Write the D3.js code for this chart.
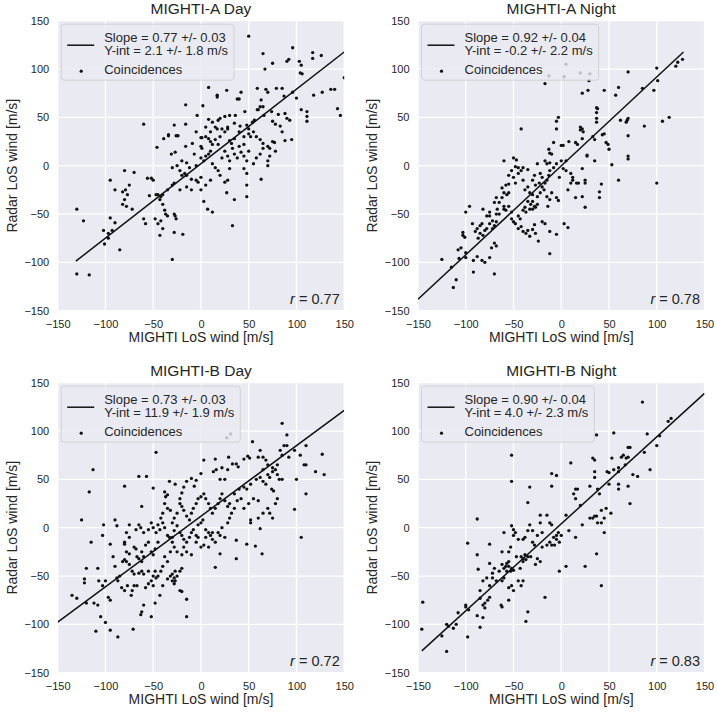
<!DOCTYPE html>
<html><head><meta charset="utf-8">
<script src="https://cdn.jsdelivr.net/npm/d3@7"></script>
<style>body{margin:0;background:#fff}svg{display:block}text{font-family:"Liberation Sans",Arial,sans-serif;fill:#262626}</style>
</head><body><div id="chart"></div>
<script>
const titles = ["MIGHTI-A Day", "MIGHTI-A Night", "MIGHTI-B Day", "MIGHTI-B Night"];
const slopes = [0.77, 0.92, 0.73, 0.90];
const intercepts = [2.1, -0.2, 11.9, 4.0];
const fitStartX = [-131, -150, -150, -146];
const fitEndX = [150, 128, 150, 150];
const slopeLabels = ["Slope = 0.77 +/- 0.03", "Slope = 0.92 +/- 0.04", "Slope = 0.73 +/- 0.03", "Slope = 0.90 +/- 0.04"];
const intLabels = ["Y-int = 2.1 +/- 1.8 m/s", "Y-int = -0.2 +/- 2.2 m/s", "Y-int = 11.9 +/- 1.9 m/s", "Y-int = 4.0 +/- 2.3 m/s"];
const rValues = ["0.77", "0.78", "0.72", "0.83"];
const tickValues = [-150, -100, -50, 0, 50, 100, 150];

const aDayPts = [[50,134],[65,116],[96,122],[117,117],[126,114],[117,111],[90,108],[92,110],[75,106],[103,108],[105,104],[104,96],[106,95],[67,100],
[150,91],[8,81],[27,78],[42,76],[59,80],[68,79],[70,76],[79,80],[85,80],[17,73],[17,71],[38,69],[40,69],[63,68],[87,72],[96,76],[100,70],[118,73],[127,76],[136,79],[140,79],[-16,63],[2,62],[59,58],[62,61],
[-4,52],[143,59],[146,52],[105,58],[111,56],[111,51],[111,46],[60,58],[65,61],[46,56],[74,56],[81,53],[88,54],[90,49],[93,47],[83,41],[78,43],[75,46],[66,52],[56,47],[54,45],[48,42],[36,52],[30,52],[25,51],[20,49],[18,47],[12,45],[8,48],[5,40],[15,40],[22,38],[28,38],[35,44],[41,41],[-16,43],[-28,42],[-60,43],
[-34,32],[-34,31],[-39,28],[-46,19],[-26,31],[-24,31],[-16,20],[-9,23],[0,29],[1,29],[0,20],[1,18],[5,30],[8,28],[10,25],[12,22],[15,27],[18,22],[20,30],[25,35],[30,26],[32,23],[35,28],[40,35],[45,30],[50,33],[52,30],[55,35],[58,30],[62,27],[65,23],[70,20],[72,18],[75,25],[77,24],[85,35],[88,26],[95,27],[40,20],[45,22],[50,38],[28,40],[17,38],[-5,35],[10,35],
[-31,12],[-27,14],[-7,12],[-20,5],[-15,3],[-12,-2],[-5,0],[0,8],[3,5],[5,10],[8,12],[10,15],[12,2],[15,-2],[18,-5],[22,8],[25,15],[28,10],[30,5],[33,18],[35,12],[38,8],[42,14],[45,10],[48,5],[50,15],[55,2],[58,8],[62,12],[65,18],[70,5],[70,0],[72,10],[78,15],[-25,0],[-30,-2],[-22,-5],[45,-3],[48,-8],[30,-3],[20,-10],[10,-15],[5,-20],[0,-12],[-5,-15],[-10,-14],[-15,-10],[-17,-8],[-20,-10],[-3,-17],[28,-15],[25,-17],[63,-14],[48,-20],
[-35,-25],[-40,-30],[-40,-40],[-42,-32],[-45,-30],[-47,-30],[-43,-35],[-10,-25],[-15,-22],[-28,-18],[-30,-20],[3,-37],[27,-28],[35,-35],[48,-32],[7,-45],[12,-48],[-22,-25],[0,-25],[-50,-15],[-80,-5],[-70,-7],[-75,-20],[-79,-25],[-82,-27],[-95,-15],[-90,-25],[-77,-30],[-80,-35],
[-130,-45],[-123,-57],[-95,-54],[-90,-59],[-60,-55],[-58,-60],[-48,-55],[-45,-60],[-42,-57],[-38,-46],[-37,-50],[-35,-52],[-40,-65],[-43,-72],[-28,-50],[-27,-52],[-26,-55],[-28,-69],[-30,-97],[-19,-71],[-78,-42],[-82,-40],[-72,-45],[-54,-31],[-102,-67],[-97,-70],[-93,-67],[-97,-75],[-101,-81],[-85,-87],[33,-62],[-130,-112],[-117,-113],[-52,-13],[-56,-13]];

const aNightPts = [[127,110],[122,107],[120,103],[100,101],[101,88],[97,78],[85,80],[70,97],[60,81],[57,73],[45,78],[28,78],[22,75],[-17,85],[-13,93],[3,92],[5,105],[20,96],[30,95],[29,88],
[113,50],[106,46],[87,41],[100,-18],[70,49],[69,47],[68,45],[62,47],[70,31],[70,10],[70,7],[60,-15],[53,1],[38,59],[37,60],[37,55],[37,49],[37,45],[33,30],[35,27],[45,33],[43,32],[47,24],[49,22],[50,17],[35,5],[42,-19],[40,-27],[40,-33],[20,40],[22,38],[20,37],[23,35],[22,28],[27,11],[27,10],[15,24],[17,22],[8,25],[2,21],[0,21],[5,5],[-3,50],[-5,46],[-5,38],[-8,24],[-13,17],[-12,13],[-10,12],[-17,5],[-12,3],[-5,2],[2,-3],[-2,-12],[-13,-10],[-15,-15],[-17,-18],[-20,-22],[-22,-28],[-18,-25],[-15,-32],[-12,-35],[-10,-28],[-3,-36],[-5,-33],[7,-25],[12,-12],[12,-15],[10,-18],[18,-18],[16,-18],[25,-15],[25,-18],[22,-32],[25,-43],[15,-33],[10,-8],[22,-3],
[3,-60],[7,-64],[-12,-68],[-12,-91],[-5,-71],[-14,-42],[-17,-60],[-20,-58],[-24,-78],[-28,-61],[-30,-66],[-27,-70],[-30,-45],[-28,-42],[-33,-45],[-35,-37],[-38,-43],[-40,-46],[-25,-32],[-30,-30],[-33,-28],[-38,-25],[-40,-15],[-45,-8],[-42,-5],[-50,-12],[-48,-18],[-35,-4],[-40,-2],[-45,-2],[-48,-1],[-50,8],[-47,6],[-42,38],[-55,-19],[-55,-28],[-57,-30],[-60,-28],[-62,-33],[-65,-38],[-60,-42],[-52,-48],[-52,-55],[-50,-58],[-48,-60],[-45,-52],[-45,-65],[-55,-42],[-58,-46],[-60,-45],[-65,-50],[-68,-58],[-70,-62],[-72,-65],[-68,-50],[-67,-45],[-68,-33],[-70,-38],
[-75,-60],[-78,-65],[-80,-67],[-82,-72],[-85,-70],[-87,-75],[-70,-80],[-68,-83],[-73,-85],[-75,-95],[-80,-100],[-83,-98],[-88,-94],[-92,-98],[-92,-110],[-70,-112],[-82,-45],[-83,-60],[-85,-62],[-88,-65],[-93,-60],[-90,-68],[-96,-42],[-100,-48],[-103,-69],[-103,-72],[-101,-74],[-105,-85],[-100,-90],[-108,-87],[-100,-95],[-107,-96],[-125,-97],[-110,-118],[-113,-126],[-115,-105],[-78,-52],[-75,-52],[-75,-48],[-72,-57],[-60,5],[-58,-20],[-62,-23],[-55,-10],[-52,-5],[-30,-15],[-27,-20],[-23,-18],[-20,-12],[-22,-8],[-12,-5],[-8,-2],[-15,2],[0,5],[5,-5],[-25,2],[-28,-10],[-35,-22],[-30,-37],[-27,-43],[-25,-40],[-32,-40],[-37,-48],[-43,-55],[-40,-68],[-37,-70],[-42,-63],[-33,-73],[-35,-67]];

const bDayPts = [[85,108],[90,96],[87,85],[83,80],[54,89],[49,74],[51,72],[60,73],[62,80],[65,73],[68,70],[45,71],[37,66],[39,63],[33,66],[29,73],[15,71],[16,60],[13,58],[22,62],[28,60],[25,50],[20,50],[3,70],[0,56],[-5,49],[-7,43],[-10,51],[-15,48],[-18,42],[-20,36],[-22,30],[-27,45],[-33,48],[-38,37],[-37,32],[-35,34],[-47,78],[-50,41],[-57,53],[-65,53],[-80,43],[-62,22],[27,93],[31,97],
[-113,60],[-117,37],[-125,8],[-115,-15],[-120,-42],[-122,-53],[-122,-57],[-135,-70],[-130,-73],[-120,-78],[-112,-78],[-108,-80],[-107,-55],[-108,-42],[-100,-55],[-103,-60],[-97,-72],[-95,-75],[-100,-98],[-105,-92],[-110,-107],[-95,-106],[-87,-113],[-71,-105],[-63,-90],[-62,-87],[-60,-80],[-52,-92],[-58,-62],[-55,-58],[-52,-55],[-50,-50],[-48,-45],[-55,-45],[-60,-48],[-62,-45],[-65,-47],[-67,-60],[-70,-60],[-72,-65],[-73,-70],[-77,-60],[-80,-65],[-83,-62],[-87,-55],[-85,-50],[-88,-52],[-90,-40],[-92,-30],[-95,-17],[-102,3],[-103,-8],[-90,8],[-88,2],[-80,-15],[-80,-17],[-75,-10],[-78,-25],[-80,-33],[-82,-35],[-78,-35],[-75,-38],[-72,-45],[-70,-48],[-75,-27],[-70,-20],[-68,-22],[-67,-30],[-65,-32],[-62,-35],[-60,-30],[-62,-25],[-58,-18],[-55,-15],[-52,-25],[-50,-28],[-48,-22],[-45,-15],[-47,-5],[-50,0],[-52,5],[-55,-2],[-60,-5],[-63,0],[-65,3],[-68,-2],[-75,3],[-78,-5],
[-43,-2],[-40,5],[-38,0],[-35,-8],[-33,-10],[-30,-10],[-28,-3],[-25,2],[-22,-5],[-20,-8],[-18,-12],[-15,-15],[-12,-10],[-10,-5],[-8,-2],[-5,-8],[-3,3],[0,5],[2,8],[5,-2],[8,-5],[10,-8],[12,-12],[15,-15],[-25,-25],[-28,-20],[-30,-15],[-32,-25],[-35,-35],[-38,-30],[-40,-40],[-42,-45],[-45,-50],[-47,-52],[-50,-60],[-40,-60],[-43,-70],[-48,-78],[-35,-53],[-32,-50],[-30,-48],[-28,-52],[-20,-42],[-22,-45],[-25,-50],[-27,-45],[-30,-55],[-28,-58],[-22,-65],[-20,-66],[-15,-74],[-15,-92],[-27,-55],[-18,-20],[-15,-25],[-20,-28],[-10,-28],[-5,-15],[-3,-10],[0,-20],[3,-18],[5,-10],[8,-20],[12,-5],[15,-41],[20,-27],[18,-5],[20,-8],[22,0],[25,-10],[28,5],[30,10],[32,15],[35,20],[30,25],[28,22],[25,28],[22,35],[20,30],[18,25],[15,20],[12,15],[10,20],[8,25],[5,30],[3,35],[0,32],[-3,30],[-5,25],[-8,20],[-10,15],[-12,8],[-15,12],[-18,18],[-20,22],[-22,25],[-25,15],[-28,10],[-30,5],[-32,18],[-35,20],[-38,25],[-40,15],[-42,10],[-45,3],
[37,-13],[37,-32],[48,-17],[57,-19],[64,-27],[62,-1],[52,5],[52,8],[60,10],[65,15],[70,20],[72,15],[75,10],[78,25],[80,30],[60,28],[55,30],[50,25],[45,20],[42,30],[38,28],[35,35],[40,40],[45,42],[48,40],[52,45],[58,50],[62,52],[65,48],[70,55],[72,52],[75,58],[78,60],[80,55],[82,50],[85,50],[68,45],[74,40],[76,38],[100,50],[98,19],[105,-10],[110,35],[108,65],[110,65],[104,75],[110,85],[120,58],[127,76],[129,55],[92,73],[98,80],[90,85],[85,75],[80,65],[75,62],[70,65],[65,60]];

const bNightPts = [[85,130],[115,113],[112,110],[103,95],[90,97],[100,85],[87,78],[93,60],[80,53],[75,55],[72,25],[70,43],[67,65],[70,73],[72,83],[70,83],[65,75],[63,73],[68,72],[60,62],[60,58],[60,45],[60,40],[55,98],[53,72],[50,57],[48,58],[50,45],[55,60],[52,15],[47,20],[45,10],[45,-5],[42,5],[38,5],[35,12],[37,12],[33,10],[30,10],[37,-27],[42,-60],[35,52],[35,58],[35,70],[33,72],[38,40],[40,35],[42,18],[37,96],[30,43],[22,3],[25,-40],[20,23],[15,40],[17,40],[13,35],[15,30],[15,-10],[10,67],[5,13],[5,-40],[8,-3],
[-2,-45],[-5,54],[-10,56],[-10,43],[-12,5],[-10,3],[-15,13],[-8,-10],[-5,-12],[-3,-5],[0,-8],[-2,-15],[-5,-8],[-7,-18],[-10,-18],[-12,-15],[-15,-18],[-17,-72],[-20,-5],[-22,13],[-22,5],[-25,-8],[-28,-18],[-30,-15],[-25,-32],[-27,-38],[-22,-35],[-20,-20],[-33,42],[-35,26],[-33,3],[-35,-3],[-38,-10],[-40,-12],[-30,-3],[-32,-30],[-35,-30],[-37,-33],[-40,-32],[-42,-30],[-40,-35],[-38,-28],[-43,-42],[-40,-55],[-45,-55],[-42,-60],[-35,-87],[-37,-97],[-45,-12],[-48,-5],[-50,-2],[-52,2],[-50,-8],[-53,-20],[-55,-25],[-55,-35],[-57,-37],[-55,-40],[-52,-42],[-53,-45],[-50,-44],[-55,-62],[-52,-60],[-50,-65],[-55,-75],[-52,48],[-52,75],
[-60,-42],[-62,-38],[-60,-52],[-62,-55],[-65,-45],[-62,-25],[-60,-5],[-63,-80],[-62,-82],[-70,-42],[-72,-47],[-75,-37],[-75,-17],[-75,-72],[-77,-75],[-80,-78],[-82,-80],[-78,-52],[-82,-55],[-85,-65],[-85,-73],[-80,-83],[-82,-93],[-88,-91],[-85,-103],[-87,-43],[-88,-28],[-88,9],[-98,-16],[-98,-113],[-100,-80],[-100,-82],[-97,-85],[-108,-88],[-110,-100],[-113,-104],[-118,-102],[-120,-100],[-125,-112],[-120,-128],[-145,-77],[-146,-105],[-47,-30],[-57,-45],[-58,-40],[-68,-55],[-72,-52],[-75,-60]];

const allPts = [aDayPts, aNightPts, bDayPts, bNightPts];
const layout = [{l:57.7,t:20.7},{l:418,t:20.7},{l:57.7,t:382.7},{l:418,t:382.7}];
const pw = 286.5, ph = 290;

const svg = d3.select("#chart").append("svg").attr("width",717).attr("height",715);

layout.forEach((p, i) => {
  const g = svg.append("g").attr("transform",`translate(${p.l},${p.t})`);
  const x = d3.scaleLinear().domain([-150,150]).range([0,pw]);
  const y = d3.scaleLinear().domain([-150,150]).range([ph,0]);
  const clipId = "clip"+i;
  g.append("clipPath").attr("id",clipId).append("rect").attr("width",pw).attr("height",ph);
  g.append("rect").attr("width",pw).attr("height",ph).attr("fill","#EAEAF2");
  g.selectAll(".gx").data(tickValues).join("line").attr("x1",d=>x(d)).attr("x2",d=>x(d)).attr("y1",0).attr("y2",ph).attr("stroke","#fff").attr("stroke-width",1.3);
  g.selectAll(".gy").data(tickValues).join("line").attr("class","gy").attr("y1",d=>y(d)).attr("y2",d=>y(d)).attr("x1",0).attr("x2",pw).attr("stroke","#fff").attr("stroke-width",1.3);

  const xa = g.append("g").attr("transform",`translate(0,${ph})`)
    .call(d3.axisBottom(x).tickValues(tickValues).tickSize(0).tickPadding(10).tickFormat(d3.format("d")));
  const ya = g.append("g").call(d3.axisLeft(y).tickValues(tickValues).tickSize(0).tickPadding(8.5).tickFormat(d3.format("d")));
  [xa, ya].forEach(a => { a.select(".domain").remove(); a.selectAll("text").attr("font-size",11).attr("fill","#262626").style("font-family",'"Liberation Sans",Arial,sans-serif'); });

  const pts = allPts[i];
  const pg = g.append("g").attr("clip-path",`url(#${clipId})`);
  pg.selectAll("circle").data(pts).join("circle")
    .attr("cx",d=>x(d[0])).attr("cy",d=>y(d[1])).attr("r",1.65).attr("fill","#111");
  const x0 = fitStartX[i], x1 = fitEndX[i];
  pg.append("line")
    .attr("x1",x(x0)).attr("y1",y(slopes[i]*x0+intercepts[i]))
    .attr("x2",x(x1)).attr("y2",y(slopes[i]*x1+intercepts[i]))
    .attr("stroke","#111").attr("stroke-width",1.5);

  // legend
  const lg = g.append("g").attr("transform","translate(3.5,3.5)");
  const bg = lg.append("rect").attr("height",56).attr("rx",3).attr("fill","#EAEAF2").attr("fill-opacity",0.8).attr("stroke","#cccccc").attr("stroke-width",0.8);
  const t1 = lg.append("text").attr("x",43).attr("y",17.5).attr("font-size",13).text(slopeLabels[i]);
  const t2 = lg.append("text").attr("x",43).attr("y",31).attr("font-size",13).text(intLabels[i]);
  lg.append("text").attr("x",43).attr("y",50).attr("font-size",13).text("Coincidences");
  lg.append("line").attr("x1",6).attr("x2",33).attr("y1",21).attr("y2",21).attr("stroke","#111").attr("stroke-width",1.5);
  lg.append("circle").attr("cx",20).attr("cy",47).attr("r",1.6).attr("fill","#111");
  const tw = Math.max(t1.node().getComputedTextLength(), t2.node().getComputedTextLength());
  bg.attr("width", 43 + tw + 6);

  // r label
  const rt = g.append("text").attr("x",pw-4.5).attr("y",ph-6.5).attr("text-anchor","end").attr("font-size",14.5);
  rt.append("tspan").attr("font-style","italic").text("r");
  rt.append("tspan").text(" = " + rValues[i]);

  // title
  g.append("text").attr("x",pw/2).attr("y",-7).attr("text-anchor","middle").attr("font-size",15.5).text(titles[i]);
  // axis labels
  g.append("text").attr("x",pw/2).attr("y",ph+31.5).attr("text-anchor","middle").attr("font-size",14).text("MIGHTI LoS wind [m/s]");
  g.append("text").attr("transform",`translate(${12 - p.l + (p.l>100? 360:0)},${ph/2}) rotate(-90)`).attr("dy","0.35em").attr("text-anchor","middle").attr("font-size",14).text("Radar LoS wind [m/s]");
});
</script></body></html>
